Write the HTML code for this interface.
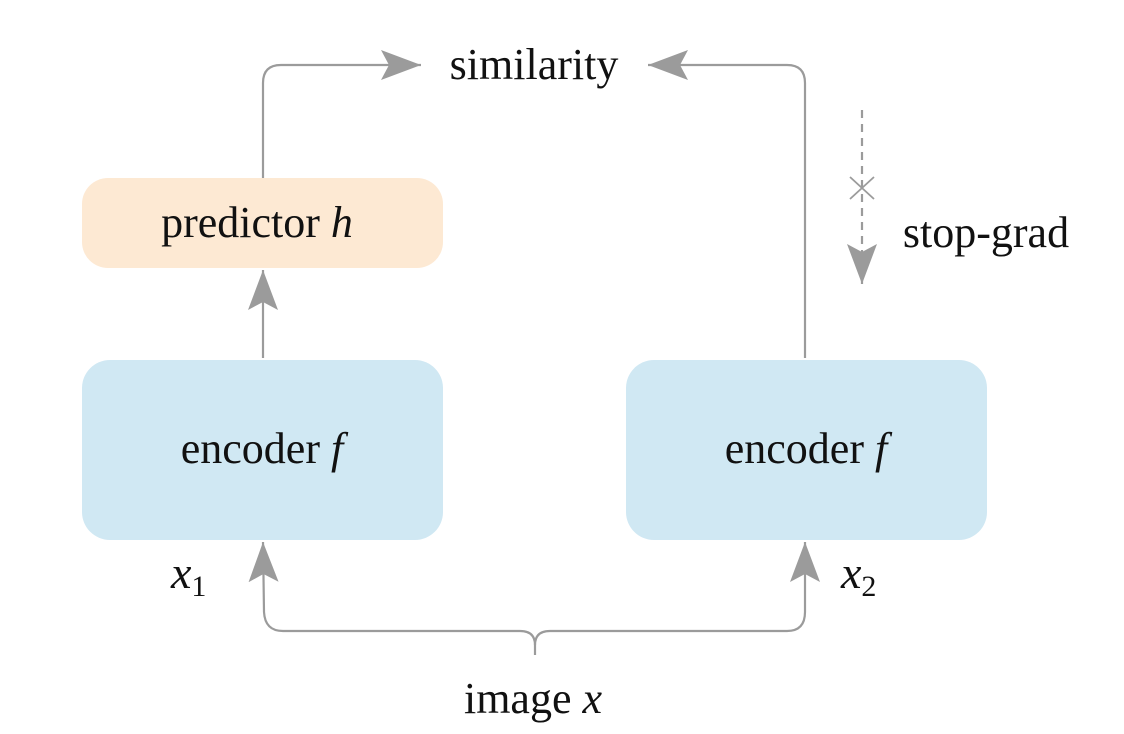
<!DOCTYPE html>
<html><head><meta charset="utf-8"><style>
html,body{margin:0;padding:0;background:#fff;}
svg{display:block;}
text{font-family:"Liberation Serif",serif;fill:#111;}
</style></head><body>
<svg width="1124" height="734" viewBox="0 0 1124 734">
<defs>
<marker id="ah" viewBox="0 0 40 30" refX="40" refY="15" markerWidth="40" markerHeight="30" markerUnits="userSpaceOnUse" orient="auto">
<path d="M0,0 L40,15 L0,30 L8,15 Z" fill="#9b9b9b"/>
</marker>
</defs>
<rect x="82" y="178" width="361" height="90" rx="26" fill="#fde9d3"/>
<rect x="82" y="360" width="361" height="180" rx="28" fill="#d0e8f3"/>
<rect x="626" y="360" width="361" height="180" rx="28" fill="#d0e8f3"/>
<g fill="none" stroke="#9b9b9b" stroke-width="2.2">
<path d="M263,178 L263,83 Q263,65 281,65 L421,65" marker-end="url(#ah)"/>
<path d="M805,358 L805,83 Q805,65 787,65 L648,65" marker-end="url(#ah)"/>
<path d="M263,358 L263,270" marker-end="url(#ah)"/>
<path d="M535,655 L535,645 Q535,631 520,631 L283,631 Q265,631 264,612 L263,542" marker-end="url(#ah)"/>
<path d="M535,645 Q535,631 550,631 L787,631 Q805,631 805,612 L805,542" marker-end="url(#ah)"/>
<path d="M862,110 L862,284" stroke-dasharray="8,6" marker-end="url(#ah)"/>
<path d="M850,177 L874,199 M874,177 L850,199" stroke-width="1.8"/>
</g>
<text x="534" y="79" font-size="44" text-anchor="middle">similarity</text>
<text x="257" y="237" font-size="44" text-anchor="middle">predictor <tspan font-style="italic">h</tspan></text>
<text x="262" y="463" font-size="44" text-anchor="middle">encoder <tspan font-style="italic">f</tspan></text>
<text x="806" y="463" font-size="44" text-anchor="middle">encoder <tspan font-style="italic">f</tspan></text>
<text x="986" y="247" font-size="44" text-anchor="middle">stop-grad</text>
<text x="533" y="713" font-size="44" text-anchor="middle">image <tspan font-style="italic">x</tspan></text>
<text x="171" y="588" font-size="46" font-style="italic">x<tspan font-style="normal" font-size="30" dy="8">1</tspan></text>
<text x="841" y="588" font-size="46" font-style="italic">x<tspan font-style="normal" font-size="30" dy="8">2</tspan></text>
</svg>
</body></html>
